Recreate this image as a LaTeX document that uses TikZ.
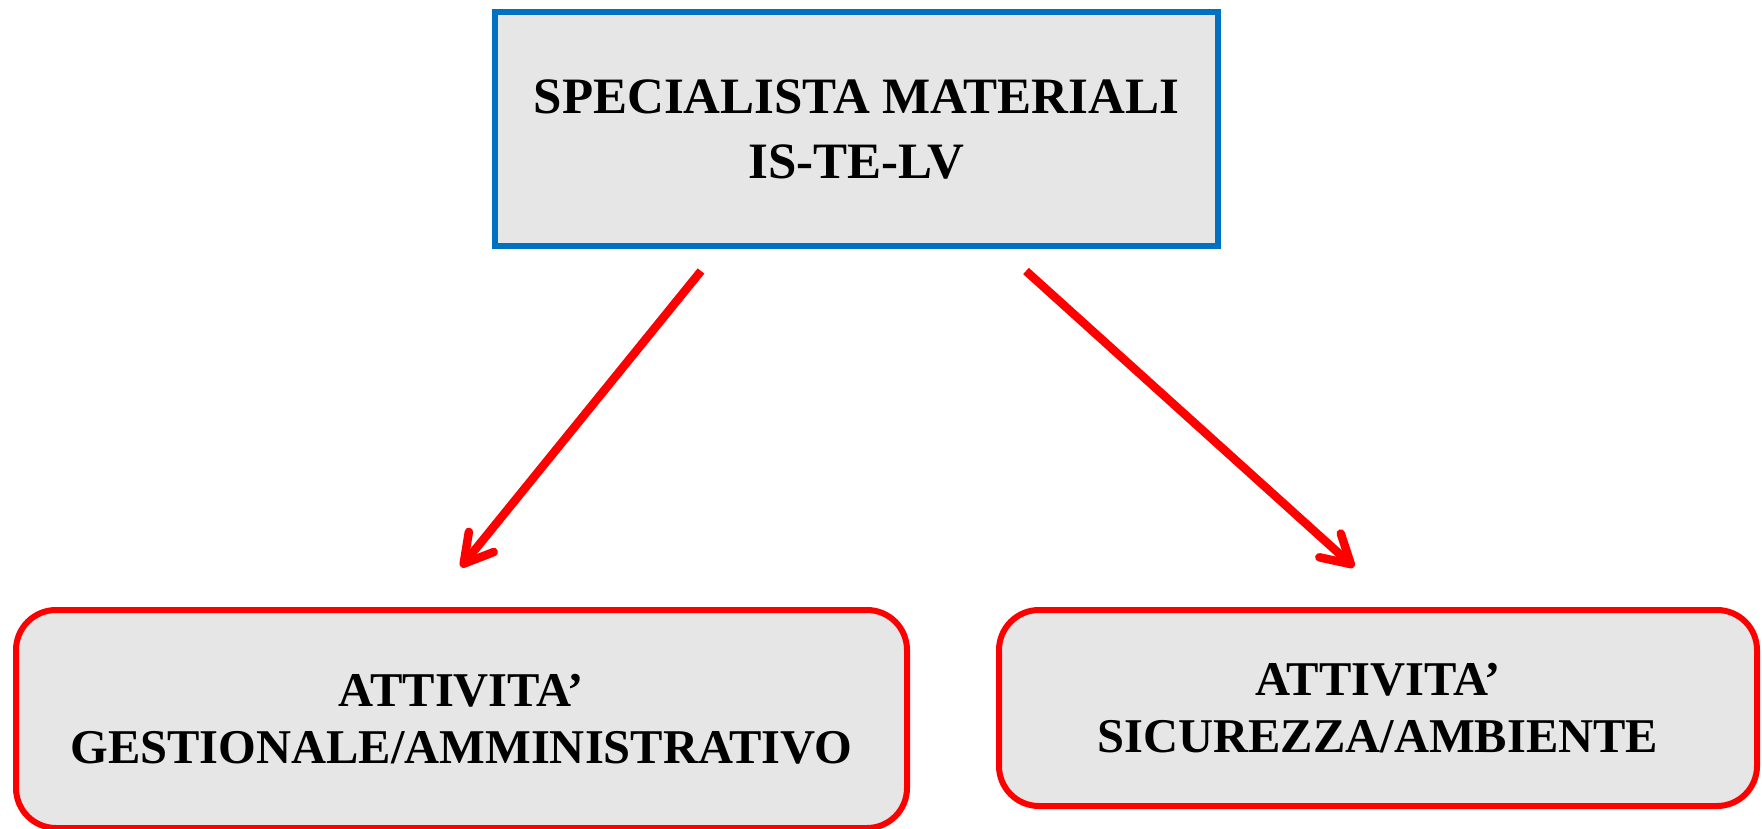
\documentclass[tikz,border=0pt]{standalone}
\usepackage{fontspec}
\setmainfont{Liberation Serif}
\usetikzlibrary{arrows.meta}
\definecolor{boxblue}{HTML}{0070C0}
\definecolor{boxred}{HTML}{FF0000}
\definecolor{boxgray}{HTML}{E6E6E6}
\begin{document}
\begin{tikzpicture}[x=1pt,y=-1pt,
  topbox/.style={draw=boxblue,line width=6pt,fill=boxgray,inner sep=0pt,align=center,
     font=\fontsize{51}{65}\selectfont\bfseries},
  subbox/.style={draw=boxred,line width=6pt,fill=boxgray,rounded corners=40pt,inner sep=0pt,align=center,
     font=\fontsize{48.5}{57}\selectfont\bfseries},
  arr/.style={draw=boxred,line width=8.5pt,
     -{Straight Barb[length=28pt,width=32pt,round,line width=8.5pt]}}]
\useasboundingbox (0,0) rectangle (1762,828);
\node[topbox,minimum width=723pt,minimum height=234pt] (top) at (856.5,129) {SPECIALISTA MATERIALI\\IS-TE-LV};
\node[subbox,minimum width=891pt,minimum height=218pt] (left) at (461.5,719) {ATTIVITA’\\GESTIONALE/AMMINISTRATIVO};
\node[subbox,minimum width=758pt,minimum height=196pt] (right) at (1378,708) {ATTIVITA’\\SICUREZZA/AMBIENTE};
\coordinate (s1) at (701,271);
\coordinate (e1) at (461,567);
\coordinate (s2) at (1026,271);
\coordinate (e2) at (1354,567);
\draw[arr] (s1) -- (e1);
\draw[arr] (s2) -- (e2);
\end{tikzpicture}
\end{document}
